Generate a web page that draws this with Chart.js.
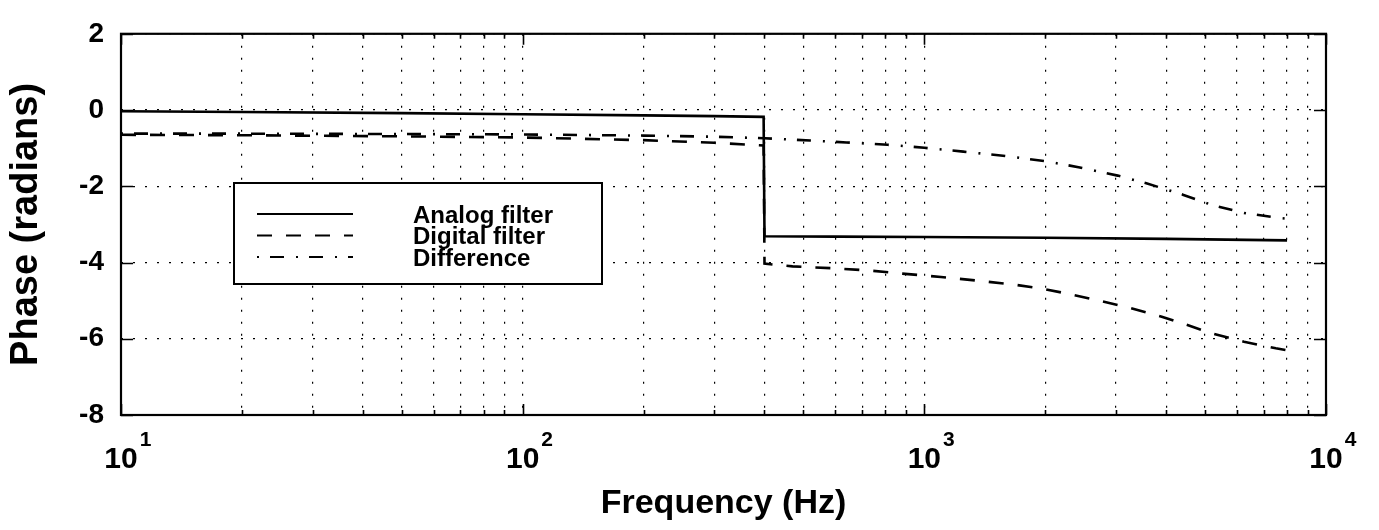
<!DOCTYPE html>
<html>
<head>
<meta charset="utf-8">
<script src="https://cdn.jsdelivr.net/npm/chart.js@4.4.1/dist/chart.umd.min.js"></script>
<style>
    html, body { margin: 0; padding: 0; background: #fff; }
</style>
</head>
<body>
<canvas id="phaseChart" width="1379" height="530"></canvas>
<script>
// Values (frequency in Hz, phase in radians)
const analogFreq = [10, 20, 50, 100, 200, 300, 398, 400, 600, 1000, 2000, 4000, 8000];
const analogPhase = [-0.03, -0.05, -0.08, -0.11, -0.14, -0.16, -0.18, -3.31, -3.32, -3.33, -3.35, -3.38, -3.42];

const digitalFreq = [10, 20, 50, 100, 200, 300, 398, 400, 470, 590, 730, 880, 1100, 1400, 1700, 2000, 2300, 2700, 3250, 3900, 4400, 5200, 6250, 7500, 8000];
const digitalPhase = [-0.65, -0.66, -0.69, -0.72, -0.79, -0.86, -0.93, -4.03, -4.10, -4.15, -4.21, -4.29, -4.38, -4.49, -4.59, -4.70, -4.83, -4.99, -5.19, -5.42, -5.60, -5.86, -6.08, -6.25, -6.30];

const diffFreq = [10, 20, 50, 100, 200, 300, 400, 520, 640, 810, 1000, 1250, 1570, 2000, 2420, 3030, 3570, 4400, 5200, 6250, 7500, 8000];
const diffPhase = [-0.62, -0.62, -0.63, -0.64, -0.67, -0.70, -0.74, -0.80, -0.85, -0.91, -0.99, -1.09, -1.20, -1.34, -1.50, -1.72, -1.92, -2.22, -2.49, -2.70, -2.82, -2.85];

const seriesLabels = ['Analog filter', 'Digital filter', 'Difference'];

// Tick positions
const xTickValues = [10, 20, 30, 40, 50, 60, 70, 80, 90,
                     100, 200, 300, 400, 500, 600, 700, 800, 900,
                     1000, 2000, 3000, 4000, 5000, 6000, 7000, 8000, 9000, 10000];
const xDecades = [10, 100, 1000, 10000];
const xDecadeExp = ['1', '2', '3', '4'];
const yTickValues = [-8, -6, -4, -2, 0, 2];

const FONT = '"Liberation Sans", Arial, Helvetica, sans-serif';

function toPoints(xs, ys) {
    return xs.map((x, i) => ({ x: x, y: ys[i] }));
}

// Box, inward tick marks and superscript decade labels
const framePlugin = {
    id: 'frame',
    afterDatasetsDraw(chart) {
        const ctx = chart.ctx;
        const area = chart.chartArea;
        const xs = chart.scales.x;
        const ys = chart.scales.y;

        ctx.save();
        ctx.strokeStyle = '#000';
        ctx.lineWidth = 1.6;
        ctx.setLineDash([]);

        // x ticks on top and bottom
        xTickValues.forEach(v => {
            const px = Math.round(xs.getPixelForValue(v)) + 0.5;
            const len = xDecades.includes(v) ? 11 : 5;
            ctx.beginPath();
            ctx.moveTo(px, area.bottom);
            ctx.lineTo(px, area.bottom - len);
            ctx.moveTo(px, area.top);
            ctx.lineTo(px, area.top + len);
            ctx.stroke();
        });

        // y ticks on left and right
        yTickValues.forEach(v => {
            const py = Math.round(ys.getPixelForValue(v)) + 0.5;
            ctx.beginPath();
            ctx.moveTo(area.left, py);
            ctx.lineTo(area.left + 12, py);
            ctx.moveTo(area.right, py);
            ctx.lineTo(area.right - 12, py);
            ctx.stroke();
        });

        // frame
        ctx.lineWidth = 2.2;
        ctx.strokeRect(area.left, area.top, area.right - area.left, area.bottom - area.top);

        // decade labels 10^n
        ctx.fillStyle = '#000';
        ctx.textBaseline = 'alphabetic';
        xDecades.forEach((v, i) => {
            const px = xs.getPixelForValue(v);
            ctx.font = 'bold 30px ' + FONT;
            ctx.textAlign = 'center';
            ctx.fillText('10', px, 468);
            const w = ctx.measureText('10').width;
            ctx.font = 'bold 21px ' + FONT;
            ctx.textAlign = 'left';
            ctx.fillText(xDecadeExp[i], px + w / 2 + 2, 446);
        });
        ctx.restore();
    }
};

// Legend box inside the plot
const legendPlugin = {
    id: 'boxLegend',
    afterDatasetsDraw(chart) {
        const ctx = chart.ctx;
        const box = { x: 234, y: 183, w: 368, h: 101 };
        ctx.save();
        ctx.fillStyle = '#fff';
        ctx.fillRect(box.x, box.y, box.w, box.h);
        ctx.strokeStyle = '#000';
        ctx.lineWidth = 2;
        ctx.setLineDash([]);
        ctx.strokeRect(box.x, box.y, box.w, box.h);

        chart.data.datasets.forEach((ds, i) => {
            const cy = 214 + i * 21.5;
            ctx.beginPath();
            ctx.setLineDash(ds.borderDash || []);
            ctx.lineWidth = 2;
            ctx.moveTo(257, cy);
            ctx.lineTo(353, cy);
            ctx.stroke();
            ctx.setLineDash([]);
            ctx.font = 'bold 24px ' + FONT;
            ctx.fillStyle = '#000';
            ctx.textAlign = 'left';
            ctx.textBaseline = 'alphabetic';
            ctx.fillText(ds.label, 413, cy + 8.5);
        });
        ctx.restore();
    }
};

const lineStyle = {
    borderColor: '#000',
    borderWidth: 2.6,
    pointRadius: 0,
    fill: false,
    tension: 0
};

new Chart(document.getElementById('phaseChart').getContext('2d'), {
    type: 'line',
    data: {
        datasets: [
            { ...lineStyle, label: seriesLabels[0], data: toPoints(analogFreq, analogPhase), borderDash: [] },
            { ...lineStyle, label: seriesLabels[1], data: toPoints(digitalFreq, digitalPhase), borderDash: [15, 14] },
            { ...lineStyle, label: seriesLabels[2], data: toPoints(diffFreq, diffPhase), borderDash: [2, 11, 14, 12] }
        ]
    },
    options: {
        responsive: false,
        animation: false,
        layout: { padding: { top: 20, right: 53, left: 0, bottom: 0 } },
        plugins: {
            legend: { display: false },
            tooltip: { enabled: false }
        },
        scales: {
            x: {
                type: 'logarithmic',
                min: 10,
                max: 10000,
                afterBuildTicks: s => { s.ticks = xTickValues.map(v => ({ value: v })); },
                afterFit: s => { s.height = 115; },
                ticks: { display: false, autoSkip: false },
                grid: { color: '#000', lineWidth: 1.2, drawTicks: false },
                border: { display: false, dash: [2, 10] },
                title: {
                    display: true,
                    text: 'Frequency (Hz)',
                    color: '#000',
                    font: { family: FONT, size: 34, weight: 'bold' },
                    padding: { top: 0, bottom: 6 }
                }
            },
            y: {
                min: -8,
                max: 2,
                afterBuildTicks: s => { s.ticks = yTickValues.map(v => ({ value: v })); },
                afterFit: s => { s.width = 121; },
                ticks: {
                    color: '#000',
                    font: { family: FONT, size: 28, weight: 'bold' },
                    padding: 17
                },
                grid: { color: '#000', lineWidth: 1.2, drawTicks: false },
                border: { display: false, dash: [2, 10] },
                title: {
                    display: true,
                    text: 'Phase (radians)',
                    color: '#000',
                    font: { family: FONT, size: 38, weight: 'bold' },
                    padding: { top: 4, bottom: 0 }
                }
            }
        }
    },
    plugins: [legendPlugin, framePlugin]
});
</script>
</body>
</html>
